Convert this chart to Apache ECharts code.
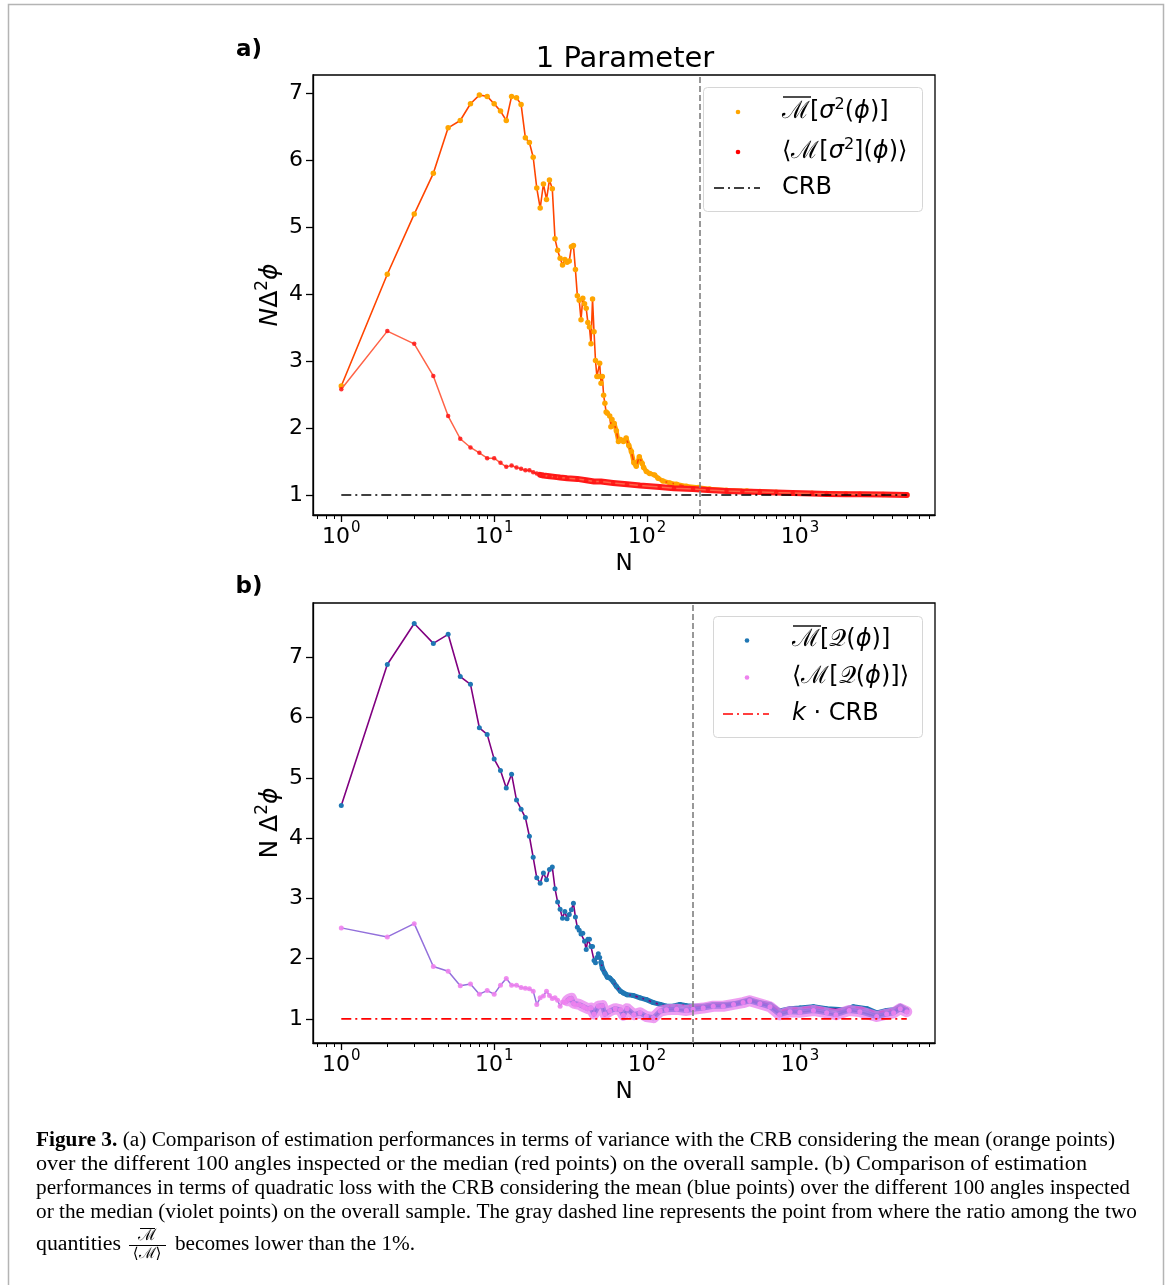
<!DOCTYPE html>
<html><head><meta charset="utf-8">
<script src="https://cdn.jsdelivr.net/npm/echarts@6.0.0/dist/echarts.min.js"></script>
<style>html,body{margin:0;padding:0;background:#fff}#c{width:1168px;height:1285px}</style>
</head><body><div id="c"></div>
<script>
// ---------- DATA ----------
const xTicks = [1, 10, 100, 1000];
const xMinorTicks = [0.7,0.8,0.9,2,3,4,5,6,7,8,9,20,30,40,50,60,70,80,90,200,300,400,500,600,700,800,900,2000,3000,4000,5000,6000,7000];
const yTicks = [1, 2, 3, 4, 5, 6, 7];
const dashA = 220;   // grey dashed line, panel a
const dashB = 200;   // grey dashed line, panel b
const crbLine = [[1, 1], [5000, 1]];

// panel a: mean of variance (orange points)
const meanA = [[1,2.63],[2,4.30],[3,5.20],[4,5.81],[5,6.49],[6,6.60],[7,6.85],[8,6.98],[9,6.96],[10,6.85],
[11,6.74],[12,6.60],[13,6.96],[14,6.94],[15,6.84],[16,6.34],[17,6.27],[18,6.05],[19,5.59],[20,5.29],
[21,5.65],[22,5.42],[23,5.71],[24,5.58],[25,4.83],[26,4.66],[27,4.54],[28,4.44],[29,4.52],[30,4.48],
[31,4.50],[32,4.71],[33,4.73],[34,4.37],[35,3.98],[36,3.91],[37,3.62],[38,3.94],[39,3.86],[40,3.79],
[41,3.58],[42,3.51],[43,3.26],[44,3.93],[45,3.44],[46,3.01],[47,2.77],[48,2.77],[49,2.97],[50,2.67],
[51,2.77],[52,2.49],[53,2.37],[54,2.24],[55,2.22],[57,2.18],[58,2.02],[59,2.13],[61,2.07],[63,1.96],
[65,1.80],[67,1.83],[70,1.80],[73,1.85],[76,1.74],[79,1.65],[82,1.48],[85,1.43],[89,1.57],[93,1.47],
[95,1.41],[99,1.35],[104,1.32],[112,1.30],[118,1.25],[127,1.21],[141,1.18],[156,1.16],[181,1.13],[216,1.11],
[257,1.09],[331,1.07],[450,1.06],[547,1.05],[700,1.04],[897,1.03],[1200,1.025],[1496,1.02],[2000,1.015],[2466,1.01],
[3500,1.005],[5000,1.00]];
// panel a: median of variance (red points)
const medA = [[1,2.58],[2,3.45],[3,3.26],[4,2.78],[5,2.18],[6,1.84],[7,1.71],[8,1.63],[9,1.55],[10,1.55],
[11,1.48],[12,1.42],[13,1.44],[14,1.41],[15,1.39],[16,1.37],[17,1.37],[18,1.34],[19,1.32],[20,1.30],
[21,1.29],[23,1.28],[25,1.27],[27,1.26],[30,1.25],[35,1.24],[40,1.22],[45,1.20],[50,1.20],[60,1.18],
[74,1.16],[90,1.14],[121,1.12],[150,1.10],[200,1.09],[250,1.075],[331,1.06],[420,1.05],[547,1.045],[700,1.035],
[897,1.03],[1200,1.02],[1496,1.015],[2000,1.01],[2466,1.01],[3500,1.005],[5000,1.0]];
// panel b: mean of quadratic loss (blue points)
const meanB = [[1,4.54],[2,6.88],[3,7.56],[4,7.23],[5,7.38],[6,6.68],[7,6.55],[8,5.83],[9,5.72],[10,5.31],
[11,5.12],[12,4.83],[13,5.06],[14,4.63],[15,4.48],[16,4.34],[17,4.03],[18,3.68],[19,3.34],[20,3.25],
[21,3.42],[22,3.31],[23,3.48],[24,3.52],[25,3.16],[26,2.94],[27,2.82],[28,2.67],[29,2.78],[30,2.66],
[31,2.73],[32,2.81],[33,2.92],[34,2.69],[35,2.52],[36,2.47],[37,2.41],[38,2.42],[39,2.29],[40,2.15],
[41,2.32],[42,2.32],[43,2.20],[44,2.20],[45,1.97],[46,1.93],[47,2.02],[48,2.08],[49,2.02],[50,1.94],
[51,1.84],[53,1.76],[55,1.69],[57,1.68],[60,1.62],[63,1.54],[67,1.46],[70,1.43],[74,1.40],[81,1.39],
[90,1.35],[99,1.32],[110,1.27],[122,1.24],[134,1.21],[148,1.21],[164,1.24],[181,1.22],[200,1.21],[233,1.21],
[271,1.24],[315,1.24],[368,1.25],[425,1.29],[469,1.32],[547,1.27],[637,1.24],[737,1.13],[862,1.17],[1000,1.18],
[1226,1.20],[1496,1.17],[1916,1.15],[2230,1.20],[2740,1.17],[3179,1.10],[3694,1.14],[4100,1.15],[4535,1.21],[5000,1.15]];
// panel b: median of quadratic loss (violet points)
const medB = [[1,2.51],[2,2.36],[3,2.58],[4,1.87],[5,1.79],[6,1.55],[7,1.58],[8,1.41],[9,1.47],[10,1.41],
[11,1.56],[12,1.67],[13,1.56],[14,1.56],[15,1.52],[16,1.51],[17,1.50],[18,1.46],[19,1.24],[20,1.35],
[21,1.38],[22,1.46],[23,1.39],[24,1.34],[25,1.35],[26,1.31],[27,1.21],[28,1.28],[29,1.27],[30,1.30],
[31,1.33],[32,1.34],[33,1.26],[34,1.23],[36,1.24],[38,1.21],[39,1.19],[41,1.17],[43,1.18],[45,1.08],
[48,1.21],[51,1.22],[53,1.08],[57,1.13],[62,1.17],[67,1.15],[70,1.06],[74,1.17],[82,1.07],[90,1.10],
[99,1.04],[110,1.02],[122,1.13],[134,1.15],[156,1.16],[181,1.14],[200,1.16],[233,1.18],[271,1.21],[315,1.21],
[368,1.24],[425,1.27],[469,1.30],[547,1.25],[637,1.20],[737,1.07],[862,1.12],[1000,1.11],[1226,1.14],[1496,1.10],
[1720,1.07],[2100,1.14],[2466,1.12],[3179,1.04],[3694,1.08],[4100,1.10],[4535,1.17],[5000,1.12]];

// ---------- CHART ----------
const FONT = 'DejaVu Sans';
const CAL = 'DejaVu Serif';
const chart = echarts.init(document.getElementById('c'), null, {renderer: 'canvas'});
const from = (arr, n) => arr.filter(p => p[0] >= n);

const tickRich = {
  b: {fontSize: 22, fontFamily: FONT, color: '#000', lineHeight: 32},
  s: {fontSize: 15, fontFamily: FONT, color: '#000', verticalAlign: 'top', lineHeight: 15, padding: [0,0,0,1]}
};
function xMain(g) {
  return {
    type: 'log', gridIndex: g, position: 'bottom', min: 0.653, max: 7650, logBase: 10,
    axisLine: {show: true, lineStyle: {color: '#000', width: 1.3}},
    axisTick: {show: true, customValues: xTicks, length: 7, lineStyle: {color: '#000', width: 1.3}},
    axisLabel: {show: true, customValues: xTicks, margin: 6,
      formatter: v => '{b|10}{s|' + Math.round(Math.log10(v)) + '}', rich: tickRich},
    splitLine: {show: false},
    name: 'N', nameLocation: 'middle', nameGap: 38,
    nameTextStyle: {fontSize: 23, fontFamily: FONT, color: '#000'}
  };
}
function xMinor(g) {
  return {
    type: 'log', gridIndex: g, position: 'bottom', min: 0.653, max: 7650, logBase: 10,
    axisLine: {show: false},
    axisTick: {show: true, customValues: xMinorTicks, length: 4, lineStyle: {color: '#000', width: 1}},
    axisLabel: {show: false}, splitLine: {show: false}
  };
}
const nameRich = {
  i: {fontSize: 25, fontFamily: FONT, fontStyle: 'italic', color: '#000', lineHeight: 32},
  r: {fontSize: 25, fontFamily: FONT, color: '#000', lineHeight: 32},
  s: {fontSize: 17, fontFamily: FONT, color: '#000', verticalAlign: 'top', lineHeight: 17}
};
function yAx(g, min, max, name) {
  return {
    type: 'value', gridIndex: g, min: min, max: max,
    axisLine: {show: true, lineStyle: {color: '#000', width: 1.3}},
    axisTick: {show: true, customValues: yTicks, length: 7, lineStyle: {color: '#000', width: 1.3}},
    axisLabel: {show: true, customValues: yTicks, margin: 10, fontSize: 22, fontFamily: FONT, color: '#000'},
    splitLine: {show: false},
    name: name, nameLocation: 'middle', nameRotate: 90, nameGap: 27, nameMoveOverlap: false,
    nameTextStyle: {rich: nameRich}
  };
}
function pts(name, data, xi, yi, lineColor, lineW, symColor, symSize, z) {
  return {type: 'line', name: name, xAxisIndex: xi, yAxisIndex: yi, data: data, z: z,
    symbol: 'circle', symbolSize: symSize, showSymbol: true, showAllSymbol: true,
    itemStyle: {color: symColor}, lineStyle: {color: lineColor, width: lineW}, silent: true};
}
function band(data, xi, yi, color, w, z) {
  return {type: 'line', xAxisIndex: xi, yAxisIndex: yi, data: data, z: z, showSymbol: false, symbol: 'none',
    lineStyle: {color: color, width: w, join: 'round', cap: 'round'}, silent: true};
}
function crb(xi, yi, color, dash) {
  return {type: 'line', xAxisIndex: xi, yAxisIndex: yi, data: crbLine, z: 6, showSymbol: false, symbol: 'none',
    lineStyle: {color: color, width: 1.6, type: [10, 4, 2, 4]}, silent: true,
    markLine: {symbol: 'none', silent: true, label: {show: false}, animation: false,
      lineStyle: {color: '#7f7f7f', type: [6, 3], width: 1.6},
      data: [{xAxis: dash}]}};
}

// ----- custom legends, labels, caption (graphic) -----
const LF = 24;
const legRich = {
  r: {fontSize: LF, fontFamily: FONT, color: '#000', lineHeight: 30},
  m: {fontSize: LF, fontFamily: CAL, color: '#000', lineHeight: 30},
  i: {fontSize: LF, fontFamily: FONT, fontStyle: 'italic', color: '#000', lineHeight: 30},
  q: {fontSize: LF, fontFamily: FONT, color: '#000', lineHeight: 30},
  s: {fontSize: 16, fontFamily: FONT, color: '#000', verticalAlign: 'top', lineHeight: 16}
};
function legText(x, y, t) {
  return {type: 'text', x: x, y: y, z: 100, style: {text: t, rich: legRich, verticalAlign: 'middle', textAlign: 'left'}};
}
function overline(x, y, w) {
  return {type: 'line', z: 100, shape: {x1: x, y1: y, x2: x + w, y2: y}, style: {stroke: '#000', lineWidth: 1.4}};
}
const graphics = [];
// outer frame
graphics.push({type: 'rect', z: 1, shape: {x: 8.5, y: 4.5, width: 1155, height: 1300}, style: {fill: null, stroke: '#b4b4b4', lineWidth: 1.5}});
// panel labels / title
graphics.push({type: 'text', x: 249, y: 50, style: {text: 'a)', fontSize: 23, fontWeight: 'bold', fontFamily: FONT, fill: '#000', textAlign: 'center', verticalAlign: 'middle'}});
graphics.push({type: 'text', x: 249, y: 587, style: {text: 'b)', fontSize: 23, fontWeight: 'bold', fontFamily: FONT, fill: '#000', textAlign: 'center', verticalAlign: 'middle'}});
graphics.push({type: 'text', x: 625, y: 59, style: {text: '1 Parameter', fontSize: 29, fontFamily: FONT, fill: '#000', textAlign: 'center', verticalAlign: 'middle'}});
// legend a
graphics.push({type: 'rect', z: 99, shape: {x: 703.5, y: 87.5, width: 219, height: 124, r: 4}, style: {fill: 'rgba(255,255,255,0.85)', stroke: '#d6d6d6', lineWidth: 1}});
graphics.push({type: 'circle', z: 100, shape: {cx: 738, cy: 112, r: 2.3}, style: {fill: '#ffa500'}});
graphics.push({type: 'circle', z: 100, shape: {cx: 738, cy: 152, r: 2.3}, style: {fill: '#ff0000'}});
graphics.push({type: 'line', z: 100, shape: {x1: 714, y1: 188, x2: 760, y2: 188}, style: {stroke: '#000', lineWidth: 1.6, lineDash: [10, 4, 2, 4]}});
graphics.push(legText(782, 112, '{m|ℳ}{r|[}{i|σ}{s|2}{r|(}{i|ϕ}{r|)]}'));
graphics.push(overline(783, 97, 28));
graphics.push(legText(782, 152, '{r|⟨}{m|ℳ}{r|[}{i|σ}{s|2}{r|](}{i|ϕ}{r|)⟩}'));
graphics.push(legText(782, 188, '{r|CRB}'));
// legend b
graphics.push({type: 'rect', z: 99, shape: {x: 713.5, y: 616.5, width: 209, height: 121, r: 4}, style: {fill: 'rgba(255,255,255,0.85)', stroke: '#d6d6d6', lineWidth: 1}});
graphics.push({type: 'circle', z: 100, shape: {cx: 747, cy: 640.5, r: 2.3}, style: {fill: '#1f77b4'}});
graphics.push({type: 'circle', z: 100, shape: {cx: 747, cy: 677.5, r: 2.3}, style: {fill: '#ee82ee'}});
graphics.push({type: 'line', z: 100, shape: {x1: 723, y1: 714, x2: 769, y2: 714}, style: {stroke: '#ff0000', lineWidth: 1.6, lineDash: [10, 4, 2, 4]}});
graphics.push(legText(792, 640, '{m|ℳ}{r|[}{q|𝒬}{r|(}{i|ϕ}{r|)]}'));
graphics.push(overline(793, 626, 28));
graphics.push(legText(792, 677, '{r|⟨}{m|ℳ}{r|[}{q|𝒬}{r|(}{i|ϕ}{r|)]⟩}'));
graphics.push(legText(792, 714, '{i|k}{r| ⋅ CRB}'));

// caption
const CAP_FONT = 'Liberation Serif';
const capLines = [
  {y: 1141, bold: 'Figure 3.', text: ' (a) Comparison of estimation performances in terms of variance with the CRB considering the mean (orange points)', right: 1115},
  {y: 1165, bold: '', text: 'over the different 100 angles inspected or the median (red points) on the overall sample. (b) Comparison of estimation', right: 1087},
  {y: 1189, bold: '', text: 'performances in terms of quadratic loss with the CRB considering the mean (blue points) over the different 100 angles inspected', right: 1130},
  {y: 1213, bold: '', text: 'or the median (violet points) on the overall sample. The gray dashed line represents the point from where the ratio among the two', right: 1137}
];
const cv = document.createElement('canvas').getContext('2d');
function measure(t, bold) { cv.font = (bold ? 'bold ' : '') + '20px "' + CAP_FONT + '"'; return cv.measureText(t).width; }
const capRich = {
  bb: {fontSize: 20, fontFamily: CAP_FONT, fontWeight: 'bold', color: '#000'},
  t: {fontSize: 20, fontFamily: CAP_FONT, color: '#000'}
};
capLines.forEach(l => {
  const w = measure(l.bold, true) + measure(l.text, false);
  const sx = (l.right - 36) / w;
  const txt = (l.bold ? '{bb|' + l.bold + '}' : '') + '{t|' + l.text + '}';
  graphics.push({type: 'text', x: 36, y: l.y, scaleX: sx, style: {text: txt, rich: capRich, verticalAlign: 'middle', textAlign: 'left'}});
});
(function () {
  const w1 = measure('quantities', false);
  graphics.push({type: 'text', x: 36, y: 1245, scaleX: (121 - 36) / w1, style: {text: 'quantities', fontSize: 20, fontFamily: CAP_FONT, fill: '#000', verticalAlign: 'middle'}});
  graphics.push({type: 'text', x: 147, y: 1236, style: {text: 'ℳ', fontSize: 16, fontFamily: CAL, fill: '#000', textAlign: 'center', verticalAlign: 'middle'}});
  graphics.push({type: 'line', shape: {x1: 140, y1: 1228.5, x2: 155, y2: 1228.5}, style: {stroke: '#000', lineWidth: 1}});
  graphics.push({type: 'line', shape: {x1: 129, y1: 1245.5, x2: 166, y2: 1245.5}, style: {stroke: '#000', lineWidth: 1}});
  graphics.push({type: 'text', x: 147, y: 1254, style: {text: '⟨ℳ⟩', fontSize: 15, fontFamily: CAL, fill: '#000', textAlign: 'center', verticalAlign: 'middle'}});
  const t2 = 'becomes lower than the 1%.';
  const w2 = measure(t2, false);
  graphics.push({type: 'text', x: 175, y: 1245, scaleX: (415 - 175) / w2, style: {text: t2, fontSize: 20, fontFamily: CAP_FONT, fill: '#000', verticalAlign: 'middle'}});
})();

const option = {
  backgroundColor: '#fff',
  animation: false,
  grid: [
    {left: 313, top: 75, width: 622, height: 440, show: true, borderColor: '#000', borderWidth: 1.3, backgroundColor: 'transparent'},
    {left: 313, top: 603, width: 622, height: 440, show: true, borderColor: '#000', borderWidth: 1.3, backgroundColor: 'transparent'}
  ],
  xAxis: [xMain(0), xMinor(0), xMain(1), xMinor(1)],
  yAxis: [
    yAx(0, 0.70, 7.28, '{i|N}{r|Δ}{s|2}{i|ϕ}'),
    yAx(1, 0.60, 7.90, '{r|N Δ}{s|2}{i|ϕ}')
  ],
  series: [
    band(from(meanA, 60), 0, 0, '#ffa500', 4.5, 1),
    pts('mean a', meanA, 0, 0, '#ff4500', 1.6, '#ffa500', 5.5, 2),
    band(from(medA, 20), 0, 0, '#ff1a1a', 6, 3),
    pts('median a', medA, 0, 0, '#ff6347', 1.5, 'rgba(255,20,20,0.85)', 4.5, 4),
    crb(0, 0, '#000', dashA),
    band(from(meanB, 50), 2, 1, '#1f77b4', 5, 1),
    pts('mean b', meanB, 2, 1, '#800080', 1.6, '#1f77b4', 5, 2),
    band(from(medB, 30), 2, 1, 'rgba(232,125,238,0.75)', 11, 3),
    band(from(medB, 30), 2, 1, 'rgba(150,110,225,0.75)', 5, 3.5),
    pts('median b', medB, 2, 1, '#9370db', 1.5, 'rgba(238,130,238,0.9)', 5, 4),
    crb(2, 1, '#ff0000', dashB)
  ],
  graphic: graphics
};
chart.setOption(option);
</script></body></html>
